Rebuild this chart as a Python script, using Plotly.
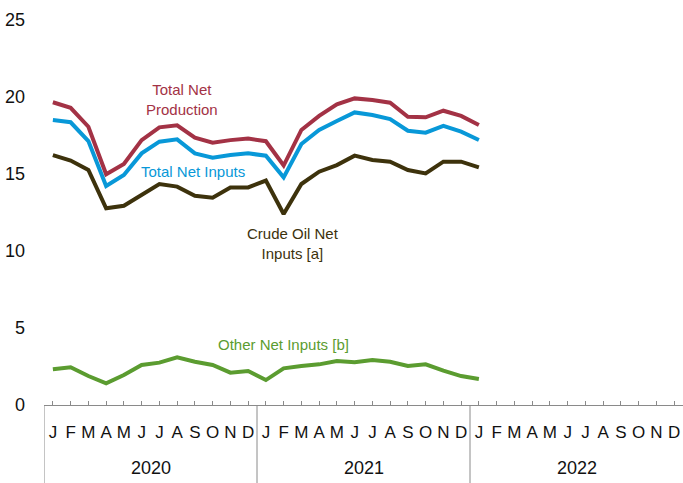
import plotly.graph_objects as go

# months Jan 2020 .. Dec 2022, data through Jan 2022
month_letters = ["J", "F", "M", "A", "M", "J", "J", "A", "S", "O", "N", "D"] * 3
years = ["2020", "2021", "2022"]

total_net_production = [19.66, 19.3, 18.07, 14.98, 15.65, 17.2, 18.03, 18.16, 17.36, 17.03, 17.2, 17.3,
                        17.13, 15.55, 17.86, 18.77, 19.52, 19.91, 19.8, 19.63, 18.72, 18.68, 19.11, 18.77,
                        18.18]
total_net_inputs = [18.5, 18.36, 17.14, 14.22, 14.94, 16.34, 17.1, 17.25, 16.34, 16.06, 16.23, 16.34,
                    16.19, 14.78, 16.95, 17.86, 18.44, 19.0, 18.83, 18.57, 17.81, 17.68, 18.12, 17.75,
                    17.21]
crude_oil_net_inputs = [16.23, 15.87, 15.26, 12.77, 12.94, 13.68, 14.35, 14.18, 13.59, 13.46, 14.13, 14.13,
                        14.57, 12.4, 14.35, 15.15, 15.58, 16.19, 15.91, 15.8, 15.26, 15.04, 15.8, 15.8,
                        15.43]
other_net_inputs = [2.32, 2.45, 1.88, 1.41, 1.95, 2.6, 2.75, 3.1, 2.81, 2.6, 2.1, 2.21,
                    1.62, 2.38, 2.53, 2.64, 2.86, 2.77, 2.92, 2.81, 2.53, 2.64, 2.23, 1.88,
                    1.69]

RED = "#A33245"
BLUE = "#0898D8"
DARK = "#3D320C"
GREEN = "#5B9C30"
FONT = "Liberation Sans, Arial"

fig = go.Figure()
series = [
    (total_net_production, RED, "Total Net Production"),
    (total_net_inputs, BLUE, "Total Net Inputs"),
    (crude_oil_net_inputs, DARK, "Crude Oil Net Inputs"),
    (other_net_inputs, GREEN, "Other Net Inputs"),
]
for vals, col, name in series:
    fig.add_trace(go.Scatter(x=list(range(len(vals))), y=vals, mode="lines", name=name,
                             line=dict(color=col, width=4), showlegend=False))

# labels beside the lines
labels = [
    (7.25, 19.85, "Total Net<br>Production", RED),
    (7.9, 15.15, "Total Net Inputs", BLUE),
    (13.55, 10.5, "Crude Oil Net<br>Inputs [a]", DARK),
    (13.0, 3.9, "Other Net Inputs [b]", GREEN),
]
for x, y, t, c in labels:
    fig.add_annotation(x=x, y=y, text=t, showarrow=False, font=dict(size=15, color=c, family=FONT))

# year labels and separators
for i, yr in enumerate(years):
    fig.add_annotation(x=i * 12 + 5.5, y=-0.164, yref="paper", yanchor="middle", text=yr,
                       showarrow=False, font=dict(size=18, color="#111", family=FONT))
for xb in [-0.5, 11.5, 23.5]:
    fig.add_shape(type="line", x0=xb, x1=xb, y0=0, y1=-0.205, yref="paper",
                  line=dict(color="#8a8a8a", width=1))

fig.update_xaxes(range=[-0.5, 35.5], tickvals=list(range(36)), ticktext=month_letters,
                 ticks="inside", ticklen=4, tickcolor="#8a8a8a", showline=True, linecolor="#8a8a8a",
                 linewidth=1, showgrid=False, zeroline=False, ticklabelstandoff=12, automargin=False,
                 ticklabeloverflow="allow", tickfont=dict(size=17, color="#111", family=FONT))
fig.update_yaxes(range=[0, 25], tickvals=[0, 5, 10, 15, 20, 25], showgrid=False, zeroline=False,
                 showline=False, ticklabelstandoff=18, automargin=False, ticklabeloverflow="allow",
                 tickfont=dict(size=18, color="#111", family=FONT))
fig.update_layout(width=683, height=483, margin=dict(l=44, r=0, t=20, b=78),
                  plot_bgcolor="white", paper_bgcolor="white")
# drop the default page margin so the figure fills the window
fig.write_html("out.html", config={"displayModeBar": False},
               post_script="document.body.style.margin='0';")
